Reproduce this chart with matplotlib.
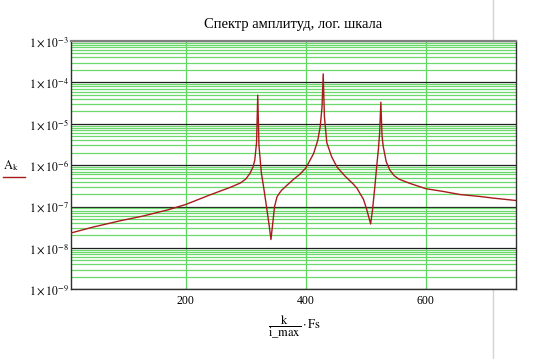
import matplotlib.pyplot as plt
from matplotlib.ticker import LogLocator, FixedLocator
from matplotlib.lines import Line2D

plt.rcParams['font.family'] = ['Liberation Serif', 'DejaVu Serif']
plt.rcParams['mathtext.fontset'] = 'stix'

# частота (k/i_max*Fs) и амплитуда
freq = [9, 46, 90, 129, 170, 200, 240, 274, 291, 300, 307, 312, 315, 318, 320,
        322, 326, 330, 335, 339, 342, 345, 348, 352, 356, 360, 368, 380, 390,
        400, 413, 420, 424, 427, 429, 431, 435, 443, 452, 465, 479, 485, 490,
        496, 501, 505, 508, 511, 515, 518, 521, 523, 525, 527, 529, 534, 540,
        547, 555, 574, 600, 630, 657, 690, 712, 750]
amp = [2.3e-8, 3.2e-8, 4.5e-8, 5.9e-8, 8.3e-8, 1.12e-7, 1.9e-7, 2.9e-7, 3.7e-7,
       4.6e-7, 6.3e-7, 9e-7, 1.3e-6, 3.5e-6, 4.9e-5, 3.0e-6, 6.5e-7, 2.8e-7,
       9e-8, 3.5e-8, 1.6e-8, 4e-8, 1.0e-7, 1.7e-7, 2.1e-7, 2.5e-7, 3.2e-7,
       4.6e-7, 6.0e-7, 8.5e-7, 1.9e-6, 4e-6, 8.5e-6, 2.5e-5, 1.6e-4, 1.5e-5,
       3.5e-6, 1.6e-6, 9e-7, 5.5e-7, 3.5e-7, 2.8e-7, 2.1e-7, 1.5e-7, 9e-8,
       5.5e-8, 3.8e-8, 8e-8, 3e-7, 9e-7, 2.5e-6, 6e-6, 3.3e-5, 5e-6, 2.8e-6,
       1.2e-6, 7.6e-7, 5.6e-7, 4.6e-7, 3.6e-7, 2.7e-7, 2.3e-7, 1.95e-7,
       1.75e-7, 1.6e-7, 1.4e-7]

x_ticks = [200, 400, 600]
y_exps = [-9, -8, -7, -6, -5, -4, -3]

fig = plt.figure(figsize=(5.38, 3.59), dpi=100)
ax = fig.add_axes([0.132, 0.194, 0.827, 0.692])

ax.plot(freq, amp, color='#a81c1c', lw=1.0, zorder=3)

ax.set_yscale('log')
ax.set_xlim(9, 750)
ax.set_ylim(1e-9, 1e-3)

ax.yaxis.set_major_locator(FixedLocator([10.0 ** e for e in y_exps]))
ax.yaxis.set_minor_locator(LogLocator(base=10, subs=range(2, 10), numticks=20))
ax.set_yticklabels([r'$1\times10^{%d}$' % e for e in y_exps])
ax.xaxis.set_major_locator(FixedLocator(x_ticks))
ax.set_xticklabels([str(t) for t in x_ticks])

ax.grid(which='minor', axis='y', color='#6ad86a', lw=0.9)
ax.grid(which='major', axis='y', color='#202020', lw=0.9)
ax.grid(which='major', axis='x', color='#5cd65c', lw=0.9)
ax.set_axisbelow(True)
ax.tick_params(which='both', length=0, labelsize=8.5)
ax.tick_params(axis='y', pad=1.5)
ax.tick_params(axis='x', pad=4)

for s in ['left', 'bottom', 'right']:
    ax.spines[s].set_color('#303030')
    ax.spines[s].set_linewidth(1.0)
ax.spines['top'].set_color('#808080')
ax.spines['top'].set_linewidth(1.6)

ax.set_title('Спектр амплитуд, лог. шкала', fontsize=10.5, pad=9)

# подпись оси Y с образцом линии
fig.text(0.006, 0.54, r'$\mathrm{A_k}$', fontsize=9, ha='left', va='center')
fig.add_artist(Line2D([0.006, 0.047], [0.507, 0.507], color='#a81c1c', lw=1.0))

fig.text(0.548, 0.089, r'$\dfrac{\mathrm{k}}{\mathrm{i\_max}}\cdot \mathrm{Fs}$',
         fontsize=9, ha='center', va='center')

# граница страницы
fig.add_artist(Line2D([0.917, 0.917], [0, 1], color='#d4d4d4', lw=1.0, zorder=0))

fig.savefig('out.png', dpi=100)
